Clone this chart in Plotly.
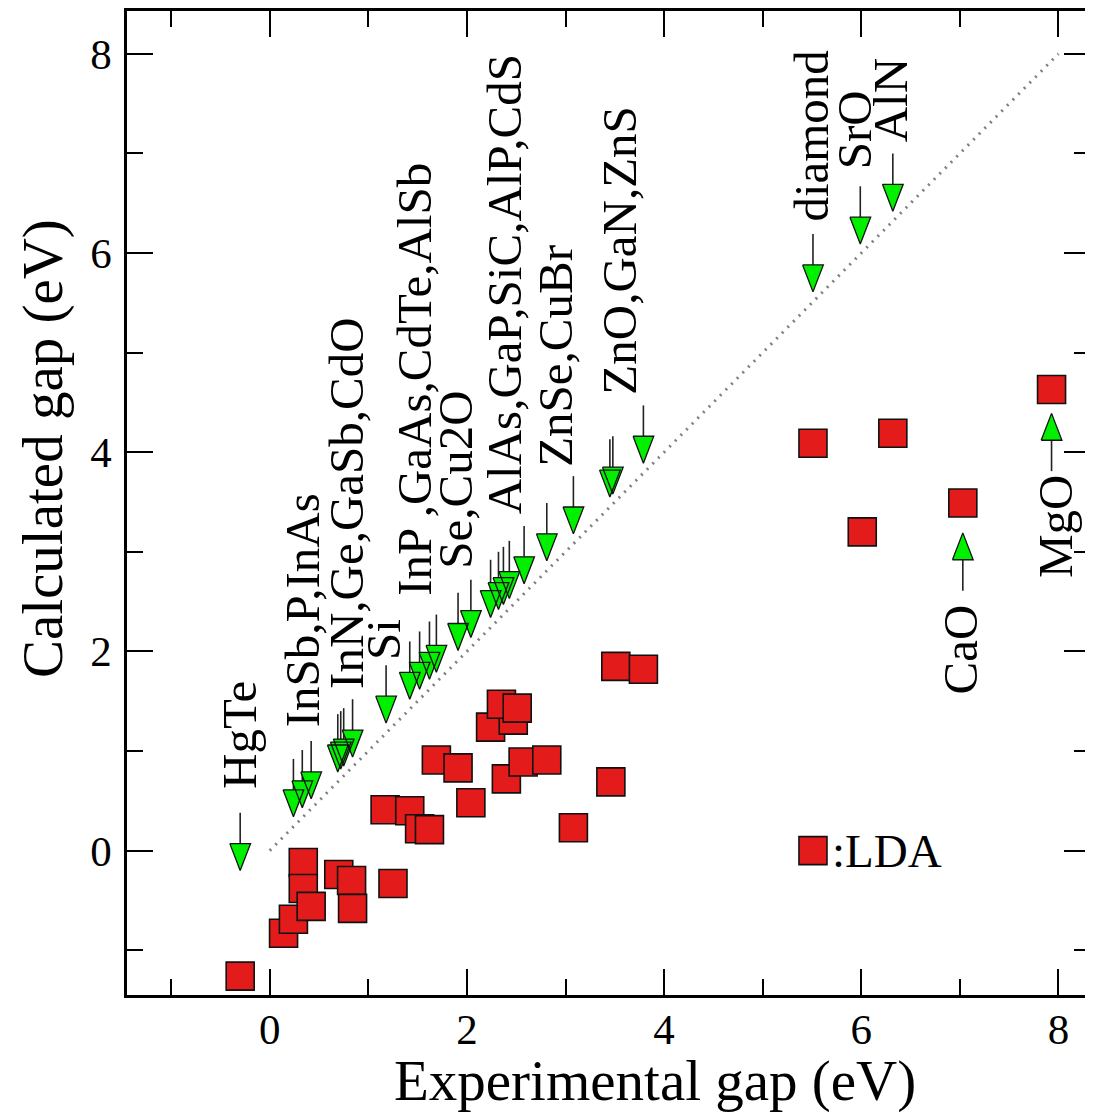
import plotly.graph_objects as go

# ---------------- data ----------------
# LDA calculated gap vs experimental gap (eV)
lda_exp = [-0.30, 0.14, 0.24, 0.34, 0.34, 0.42, 0.70, 0.83, 0.84, 1.25,
           1.17, 1.42, 1.52, 1.62, 1.69, 1.91, 2.04, 2.24, 2.47, 2.35,
           2.40, 2.51, 2.57, 2.81, 3.46, 3.08, 3.51, 3.79, 5.51, 6.32,
           6.01, 7.03, 7.93]
lda_calc = [-1.26, -0.83, -0.69, -0.12, -0.38, -0.56, -0.24, -0.30, -0.58, -0.33,
            0.41, 0.40, 0.22, 0.21, 0.91, 0.83, 0.48, 1.24, 1.31, 1.47,
            0.72, 1.43, 0.89, 0.91, 0.69, 0.23, 1.85, 1.82, 4.09, 4.19,
            3.20, 3.49, 4.63]

# experimental gaps marked with green arrows pointing at the diagonal
arrow_down_x = [-0.30, 0.24, 0.33, 0.42, 0.69, 0.72, 0.75, 0.84, 1.18,
                1.42, 1.52, 1.62, 1.69, 1.91, 2.04, 2.24, 2.32, 2.37, 2.43,
                2.58, 2.81, 3.08, 3.45, 3.48, 3.79, 5.51, 5.99, 6.32]
# off-diagonal (upward) arrows: x and tip value
arrow_up_x = [7.03, 7.93]
arrow_up_tip = [3.19, 4.39]

label_text = ["HgTe", "InSb,P,InAs", "InN,Ge,GaSb,CdO", "Si",
              "InP ,GaAs,CdTe,AlSb", "Se,Cu2O", "AlAs,GaP,SiC,AlP,CdS",
              "ZnSe,CuBr", "ZnO,GaN,ZnS", "diamond", "SrO", "AlN",
              "CaO", "MgO"]

x_tickvals = [0, 2, 4, 6, 8]
y_tickvals = [0, 2, 4, 6, 8]

# ---------------- placement / style ----------------
label_pos = [(-0.30, 0.60, "bottom"), (0.33, 1.22, "bottom"), (0.78, 1.60, "bottom"),
             (1.16, 1.89, "bottom"), (1.46, 2.54, "bottom"), (1.89, 2.81, "bottom"),
             (2.39, 3.36, "bottom"), (2.89, 3.83, "bottom"), (3.55, 4.56, "bottom"),
             (5.50, 6.30, "bottom"), (5.93, 6.82, "bottom"), (6.30, 7.09, "bottom"),
             (7.01, 2.49, "top"), (7.97, 3.79, "top")]

FONT = "Liberation Serif"
TIP_OFF = 0.10     # arrow tip offset above the diagonal
ARROW_LEN = 0.58   # total arrow length (data units)
TRI_W = 0.21       # triangle width (x units)
TRI_H = 0.27       # triangle height (y units)
GREEN = "#00f000"
RED = "#e41b1b"

fig = go.Figure()

# diagonal y = x
fig.add_trace(go.Scatter(x=[0, 8], y=[0, 8], mode="lines",
                         line=dict(color="#808080", width=3, dash="2px,6px"),
                         hoverinfo="skip", showlegend=False))

# arrow stems and heads
sx, sy, tx, ty = [], [], [], []
for x in arrow_down_x:
    t = x + TIP_OFF
    sx += [x, x, None]
    sy += [t + TRI_H, t + ARROW_LEN, None]
    tx += [x - TRI_W / 2, x + TRI_W / 2, x, x - TRI_W / 2, None]
    ty += [t + TRI_H, t + TRI_H, t, t + TRI_H, None]
for x, t in zip(arrow_up_x, arrow_up_tip):
    sx += [x, x, None]
    sy += [t - TRI_H, t - ARROW_LEN, None]
    tx += [x - TRI_W / 2, x + TRI_W / 2, x, x - TRI_W / 2, None]
    ty += [t - TRI_H, t - TRI_H, t, t - TRI_H, None]

fig.add_trace(go.Scatter(x=sx, y=sy, mode="lines",
                         line=dict(color="#222222", width=1.6),
                         hoverinfo="skip", showlegend=False))
fig.add_trace(go.Scatter(x=tx, y=ty, mode="lines", fill="toself",
                         fillcolor=GREEN, line=dict(color="#111111", width=1.3),
                         hoverinfo="skip", showlegend=False))

# LDA squares
fig.add_trace(go.Scatter(x=lda_exp, y=lda_calc, mode="markers", name=":LDA",
                         marker=dict(symbol="square", size=28, color=RED,
                                     line=dict(color="#111111", width=1.6)),
                         showlegend=False))

# legend key (drawn inside the plot)
LEG_X, LEG_Y = 5.51, 0.0
fig.add_trace(go.Scatter(x=[LEG_X], y=[LEG_Y], mode="markers",
                         marker=dict(symbol="square", size=28, color=RED,
                                     line=dict(color="#111111", width=1.6)),
                         hoverinfo="skip", showlegend=False))
annotations = [dict(x=LEG_X + 0.17, y=LEG_Y, xref="x", yref="y", text=":LDA",
                    showarrow=False, xanchor="left", yanchor="middle",
                    font=dict(family=FONT, size=47, color="black"))]

for txt, (lx, ly, anc) in zip(label_text, label_pos):
    annotations.append(dict(x=lx, y=ly, xref="x", yref="y", text=txt,
                            showarrow=False, textangle=-90,
                            xanchor="center", yanchor=anc,
                            font=dict(family=FONT, size=49, color="black")))

# axis titles
annotations.append(dict(x=0.548, y=-0.087, xref="paper", yref="paper",
                        text="Experimental gap (eV)", showarrow=False,
                        xanchor="center", yanchor="middle",
                        font=dict(family=FONT, size=57, color="black")))
annotations.append(dict(x=-0.087, y=0.555, xref="paper", yref="paper",
                        text="Calculated gap (eV)", showarrow=False, textangle=-90,
                        xanchor="center", yanchor="middle",
                        font=dict(family=FONT, size=57, color="black")))

axis_common = dict(showgrid=False, zeroline=False, showline=True, linecolor="black",
                   linewidth=2.5, mirror="ticks", ticks="inside", ticklen=26,
                   tickwidth=2, tickcolor="black",
                   tickfont=dict(family=FONT, size=43, color="black"),
                   minor=dict(dtick=1, tick0=0, ticks="inside", ticklen=16,
                              tickwidth=2, tickcolor="black"))

# the page body adds an 8px offset, so the figure is 8px smaller than the window
fig.update_layout(
    width=1085, height=1104,
    margin=dict(l=119, r=2, t=0, b=117),
    paper_bgcolor="white", plot_bgcolor="white",
    showlegend=False,
    xaxis=dict(range=[-1.448, 8.32], tickvals=x_tickvals, ticklabelstandoff=-5,
               **axis_common),
    yaxis=dict(range=[-1.45, 8.43], tickvals=y_tickvals, ticklabelstandoff=4,
               **axis_common),
    annotations=annotations,
)

fig.write_html("out.html")
